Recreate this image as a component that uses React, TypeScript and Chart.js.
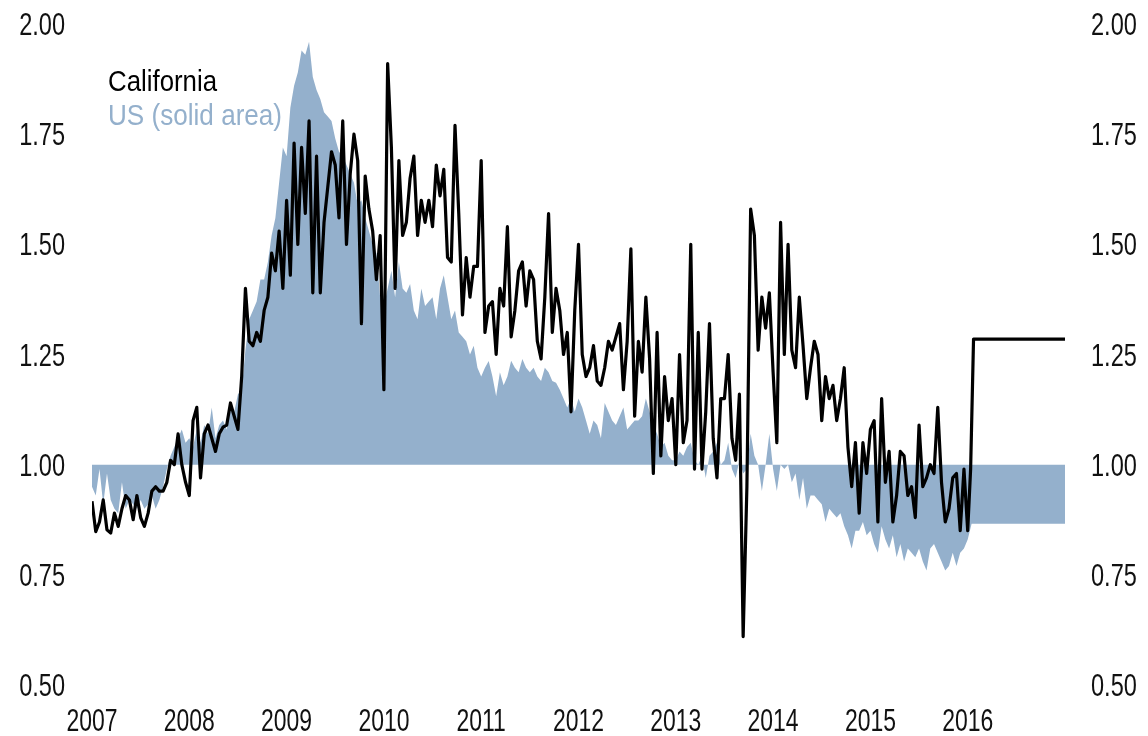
import { useEffect, useRef } from "react";
import { Chart, registerables } from "chart.js";

Chart.register(...registerables);

// ---- data ----
const START_YEAR = 2007;
const STEPS_PER_YEAR = 26; // bi-weekly samples

const ca2007 = [0.917, 0.848, 0.87, 0.92, 0.852, 0.845, 0.89, 0.86, 0.9, 0.93, 0.92, 0.875, 0.93, 0.88, 0.86, 0.89, 0.94, 0.95, 0.94, 0.94, 0.96, 1.01, 1.0, 1.07, 1.0, 0.96];
const ca2008 = [0.93, 1.1, 1.13, 0.97, 1.07, 1.09, 1.06, 1.03, 1.07, 1.085, 1.09, 1.14, 1.11, 1.08, 1.2, 1.4, 1.28, 1.27, 1.3, 1.28, 1.35, 1.38, 1.48, 1.44, 1.53, 1.4];
const ca2009 = [1.6, 1.43, 1.73, 1.5, 1.72, 1.57, 1.78, 1.39, 1.7, 1.39, 1.55, 1.63, 1.71, 1.68, 1.56, 1.78, 1.5, 1.66, 1.75, 1.69, 1.32, 1.655, 1.58, 1.53, 1.42, 1.52];
const ca2010 = [1.17, 1.91, 1.72, 1.4, 1.69, 1.52, 1.55, 1.65, 1.7, 1.52, 1.6, 1.55, 1.6, 1.54, 1.68, 1.61, 1.67, 1.47, 1.46, 1.77, 1.57, 1.34, 1.47, 1.38, 1.45, 1.45];
const ca2011 = [1.69, 1.3, 1.36, 1.37, 1.25, 1.4, 1.36, 1.54, 1.29, 1.35, 1.44, 1.46, 1.36, 1.44, 1.42, 1.28, 1.24, 1.38, 1.57, 1.3, 1.4, 1.35, 1.25, 1.3, 1.12, 1.35];
const ca2012 = [1.5, 1.25, 1.2, 1.22, 1.27, 1.19, 1.18, 1.22, 1.28, 1.26, 1.29, 1.32, 1.17, 1.28, 1.49, 1.11, 1.28, 1.21, 1.38, 1.24, 0.98, 1.3, 1.02, 1.2, 1.1, 1.15];
const ca2013 = [1.0, 1.25, 1.05, 1.1, 1.5, 0.99, 1.3, 0.99, 1.12, 1.32, 1.06, 0.97, 1.15, 1.15, 1.25, 1.06, 1.01, 1.16, 0.61, 0.95, 1.58, 1.52, 1.26, 1.38, 1.31, 1.39];
const ca2014 = [1.21, 1.05, 1.55, 1.25, 1.5, 1.26, 1.22, 1.38, 1.27, 1.15, 1.22, 1.28, 1.25, 1.1, 1.2, 1.15, 1.18, 1.1, 1.15, 1.22, 1.04, 0.95, 1.05, 0.89, 1.05, 0.98];
const ca2015 = [1.08, 1.1, 0.87, 1.15, 0.96, 1.03, 0.87, 0.93, 1.03, 1.02, 0.93, 0.95, 0.88, 1.09, 0.95, 0.97, 1.0, 0.98, 1.13, 0.96, 0.87, 0.9, 0.97, 0.98, 0.85, 0.99];
const ca2016 = [0.85];
const caTailDates = [2016.03, 2016.06, 2017];
const caTailValues = [0.99, 1.285, 1.285];

const us2007 = [0.95, 0.93, 0.99, 0.91, 0.98, 0.92, 0.9, 0.89, 0.96, 0.9, 0.92, 0.91, 0.9, 0.92, 0.9, 0.91, 0.93, 0.9, 0.92, 0.95, 0.99, 1.02, 1.04, 1.06, 1.08, 1.05];
const us2008 = [1.06, 1.04, 1.08, 1.05, 1.09, 1.07, 1.13, 1.06, 1.09, 1.1, 1.08, 1.14, 1.12, 1.16, 1.17, 1.26, 1.33, 1.35, 1.37, 1.42, 1.42, 1.46, 1.52, 1.56, 1.64, 1.72];
const us2009 = [1.7, 1.81, 1.86, 1.89, 1.94, 1.93, 1.96, 1.88, 1.85, 1.83, 1.8, 1.79, 1.78, 1.74, 1.71, 1.7, 1.68, 1.66, 1.64, 1.59, 1.6, 1.56, 1.53, 1.5, 1.48, 1.38];
const us2010 = [1.36, 1.4, 1.44, 1.38, 1.46, 1.4, 1.39, 1.41, 1.35, 1.33, 1.4, 1.36, 1.37, 1.38, 1.33, 1.4, 1.43, 1.38, 1.33, 1.35, 1.3, 1.29, 1.28, 1.25, 1.27, 1.22];
const us2011 = [1.2, 1.22, 1.235, 1.2, 1.155, 1.21, 1.18, 1.2, 1.236, 1.22, 1.21, 1.24, 1.22, 1.21, 1.22, 1.2, 1.19, 1.22, 1.21, 1.19, 1.186, 1.17, 1.15, 1.13, 1.15, 1.12];
const us2012 = [1.15, 1.13, 1.1, 1.07, 1.1, 1.09, 1.06, 1.14, 1.12, 1.1, 1.09, 1.11, 1.13, 1.08, 1.09, 1.1, 1.1, 1.11, 1.15, 1.12, 1.09, 1.07, 1.04, 1.05, 1.02, 1.01];
const us2013 = [1.01, 1.03, 1.02, 1.04, 1.05, 1.01, 1.0, 1.02, 0.97, 1.02, 1.03, 1.05, 1.0, 1.01, 1.05, 0.99, 0.97, 1.01, 0.98, 0.99, 1.07, 1.02, 1.0, 0.94, 1.0, 1.07];
const us2014 = [0.99, 0.94, 1.0, 0.99, 1.0, 0.96, 0.98, 0.92, 0.97, 0.9, 0.93, 0.93, 0.92, 0.91, 0.87, 0.9, 0.89, 0.88, 0.89, 0.86, 0.84, 0.81, 0.85, 0.85, 0.87, 0.84];
const us2015 = [0.85, 0.82, 0.8, 0.86, 0.83, 0.81, 0.84, 0.79, 0.82, 0.78, 0.81, 0.8, 0.79, 0.81, 0.78, 0.76, 0.81, 0.82, 0.8, 0.78, 0.76, 0.77, 0.8, 0.77, 0.8, 0.81];
const us2016 = [0.83];
const usTailDates = [2016.04, 2017];
const usTailValues = [0.866, 0.866];

const xMin = 2007;
const xMax = 2017;
const yearLabels = [2007, 2008, 2009, 2010, 2011, 2012, 2013, 2014, 2015, 2016];
const yMin = 0.5;
const yMax = 2.0;
const yTickValues = [0.5, 0.75, 1.0, 1.25, 1.5, 1.75, 2.0];

const legendLabels = ["California", "US (solid area)"];

const US_COLOR = "#94b0cc";
const FONT = "'Liberation Sans', Arial, sans-serif";

const caSeries = [...ca2007, ...ca2008, ...ca2009, ...ca2010, ...ca2011, ...ca2012, ...ca2013, ...ca2014, ...ca2015, ...ca2016];
const usSeries = [...us2007, ...us2008, ...us2009, ...us2010, ...us2011, ...us2012, ...us2013, ...us2014, ...us2015, ...us2016];

function toPoints(vals: number[], tailDates: number[], tailVals: number[]) {
  const pts = vals.map((v, i) => ({ x: START_YEAR + i / STEPS_PER_YEAR, y: v }));
  tailDates.forEach((d, i) => pts.push({ x: d, y: tailVals[i] }));
  return pts;
}

// condensed text: draw with a horizontal squeeze
function narrowText(ctx: CanvasRenderingContext2D, text: string, x: number, y: number, sx: number) {
  ctx.save();
  ctx.translate(x, y);
  ctx.scale(sx, 1);
  ctx.fillText(text, 0, 0);
  ctx.restore();
}

const labelPlugin = {
  id: "condensedLabels",
  afterDraw(chart: any) {
    const ctx: CanvasRenderingContext2D = chart.ctx;
    const xs = chart.scales.x;
    const yl = chart.scales.y;
    const yr = chart.scales.y2;
    ctx.save();
    ctx.textBaseline = "alphabetic";
    ctx.fillStyle = "#111111";
    ctx.font = `31px ${FONT}`;
    // y tick labels (both sides)
    yTickValues.forEach((v) => {
      const py = yl.getPixelForValue(v) + 11;
      ctx.textAlign = "right";
      narrowText(ctx, v.toFixed(2), yl.right - 27, py, 0.76);
      const py2 = yr.getPixelForValue(v) + 11;
      ctx.textAlign = "left";
      narrowText(ctx, v.toFixed(2), yr.left + 26, py2, 0.76);
    });
    // x tick labels
    ctx.textAlign = "center";
    yearLabels.forEach((yr0) => {
      narrowText(ctx, String(yr0), xs.getPixelForValue(yr0), xs.top + 46, 0.74);
    });
    // legend text
    ctx.font = `29px ${FONT}`;
    ctx.textAlign = "left";
    ctx.fillStyle = "#000000";
    narrowText(ctx, legendLabels[0], 108, 91, 0.89);
    ctx.fillStyle = US_COLOR;
    narrowText(ctx, legendLabels[1], 108, 125, 0.9);
    ctx.restore();
  },
};

export default function App() {
  const ref = useRef<HTMLCanvasElement | null>(null);

  useEffect(() => {
    if (!ref.current) return;
    const chart = new Chart(ref.current, {
      type: "line",
      data: {
        datasets: [
          {
            label: "California",
            data: toPoints(caSeries, caTailDates, caTailValues),
            borderColor: "#000000",
            borderWidth: 3.2,
            pointRadius: 0,
            tension: 0,
            fill: false,
            order: 0,
            borderJoinStyle: "round",
          },
          {
            label: "US",
            data: toPoints(usSeries, usTailDates, usTailValues),
            borderColor: US_COLOR,
            borderWidth: 0,
            backgroundColor: US_COLOR,
            pointRadius: 0,
            tension: 0,
            fill: { value: 1 },
            order: 1,
          },
        ],
      },
      options: {
        animation: false,
        responsive: false,
        devicePixelRatio: 1,
        layout: { padding: { top: 24, left: 0, right: 0, bottom: 0 } },
        plugins: {
          legend: { display: false },
          tooltip: { enabled: false },
        },
        scales: {
          x: {
            type: "linear",
            min: xMin,
            max: xMax,
            grid: { display: false, drawTicks: false },
            border: { display: false },
            ticks: { display: false, stepSize: 1 },
            afterFit: (s: any) => {
              s.height = 51;
            },
          },
          y: {
            position: "left",
            min: yMin,
            max: yMax,
            grid: { display: false, drawTicks: false },
            border: { display: false },
            ticks: { display: false, stepSize: 0.25 },
            afterFit: (s: any) => {
              s.width = 92;
            },
          },
          y2: {
            position: "right",
            min: yMin,
            max: yMax,
            grid: { display: false, drawTicks: false },
            border: { display: false },
            ticks: { display: false, stepSize: 0.25 },
            afterFit: (s: any) => {
              s.width = 83;
            },
          },
        },
      },
      plugins: [labelPlugin],
    } as any);
    return () => chart.destroy();
  }, []);

  return (
    <div style={{ position: "absolute", left: 0, top: 0, width: 1148, height: 736, background: "#fff" }}>
      <canvas ref={ref} width={1148} height={736} style={{ width: 1148, height: 736, display: "block" }} />
    </div>
  );
}
